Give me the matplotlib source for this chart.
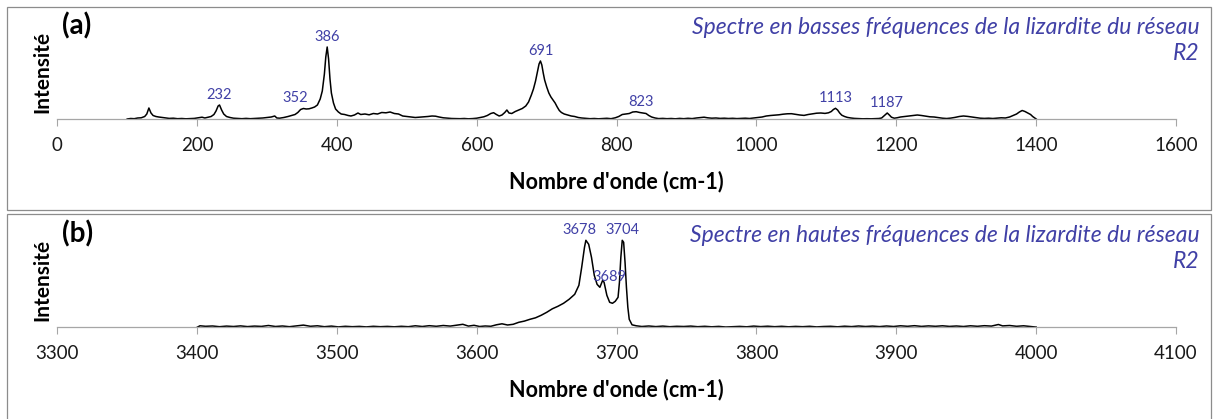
import matplotlib
matplotlib.use("Agg")
import matplotlib.pyplot as plt
from matplotlib.patches import Rectangle

plt.rcParams['font.family'] = ['Lato', 'DejaVu Sans']

# spectre basses frequences (intensite en unites arbitraires)
low_wn = [100, 105, 110, 115, 120, 125, 128, 131, 134, 137, 141, 145, 150, 155, 160, 166, 172, 178, 184, 190,
          196, 202, 207, 211, 216, 220, 224, 227, 230, 232, 235, 238, 242, 247, 252, 258, 264, 270, 276, 282,
          288, 294, 300, 306, 311, 314, 318, 324, 330, 335, 340, 344, 348, 352, 356, 360, 364, 368, 372, 376,
          379, 382, 384, 386, 388, 390, 392, 395, 398, 402, 406, 411, 416, 420, 425, 430, 434, 440, 446, 452,
          458, 464, 470, 476, 482, 488, 494, 500, 506, 512, 518, 524, 530, 536, 541, 546, 552, 558, 564, 570,
          576, 582, 588, 594, 600, 605, 610, 615, 620, 624, 628, 632, 636, 640, 643, 646, 650, 655, 660, 665,
          670, 674, 678, 681, 684, 687, 689, 691, 693, 695, 697, 700, 703, 706, 709, 712, 715, 718, 721, 725,
          730, 735, 740, 745, 750, 756, 762, 768, 774, 780, 786, 792, 798, 803, 808, 813, 818, 823, 828, 833,
          838, 842, 846, 850, 855, 860, 866, 872, 878, 884, 890, 896, 902, 908, 914, 920, 925, 930, 936, 942,
          948, 954, 960, 966, 972, 978, 984, 990, 996, 1002, 1008, 1014, 1020, 1026, 1032, 1038, 1044, 1050, 1056, 1062,
          1068, 1074, 1080, 1086, 1092, 1098, 1103, 1107, 1110, 1113, 1116, 1119, 1122, 1126, 1130, 1135, 1140, 1146, 1152, 1158,
          1164, 1170, 1175, 1179, 1183, 1187, 1190, 1193, 1197, 1201, 1206, 1212, 1218, 1224, 1230, 1236, 1242, 1248, 1254, 1260,
          1266, 1272, 1278, 1284, 1290, 1296, 1302, 1308, 1314, 1320, 1326, 1332, 1338, 1344, 1350, 1356, 1362, 1367, 1372, 1376,
          1380, 1384, 1388, 1392, 1395, 1398, 1400]
low_int = [0, 0.5, 0.3, 1.0, 1.2, 2.5, 5, 11, 6, 3.5, 2.5, 2.0, 1.5, 1.0, 0.6, 0.8, 0.3, 0.5, 0.2, 0.4,
           0.6, 1.2, 1.8, 1.0, 1.8, 2.5, 4.5, 8, 13, 14, 9, 5, 2.5, 1.5, 0.8, 0.5, 0.3, 0.6, 0.3, 0.5,
           0.8, 1.0, 1.5, 2.0, 3.0, 1.0, 0.8, 1.5, 2.5, 3.5, 4.5, 6.5, 9.5, 10.5, 10, 10.2, 11, 12, 14, 20,
           28, 45, 62, 72, 60, 40, 26, 16, 10, 7, 5, 4.5, 3.5, 3.0, 4.0, 6.0, 4.5, 5.0, 4.2, 5.5,
           5.0, 6.5, 6.2, 7.0, 5.5, 5.0, 3.0, 2.5, 2.0, 1.5, 1.8, 2.2, 2.5, 3.0, 2.8, 2.0, 1.2, 0.8, 0.5, 0.4,
           0.3, 0.5, 0.2, 0.4, 0.8, 1.5, 2.2, 3.5, 5.5, 6.3, 4.5, 3.0, 4.0, 6.5, 9, 6, 5.5, 7.5, 9, 10.5,
           13, 17, 24, 30, 38, 48, 55, 58, 54, 46, 39, 32, 26, 22, 19, 16, 12, 8.5, 6.5, 5,
           4, 3, 2.5, 1.5, 1.0, 0.6, 0.3, 0.5, 0.2, 0.4, 0.7, 0.3, 1.2, 2.5, 4.5, 5.0, 5.5, 7.0, 7.3, 6.5,
           6.0, 5.5, 3.5, 2.0, 1.0, 0.4, 0.6, 0.3, 0.5, 0.2, 0.6, 0.3, 0.7, 0.4, 1.0, 1.4, 1.8, 1.2, 0.8, 1.0,
           0.6, 0.8, 0.5, 0.7, 0.4, 0.6, 0.8, 0.5, 1.0, 1.5, 2.0, 3.0, 3.5, 3.8, 4.2, 4.8, 5.2, 5.3, 4.6, 4.0,
           3.6, 4.5, 5.2, 5.8, 6.0, 5.6, 6.2, 7.5, 9.5, 10.7, 9.0, 6.0, 3.8, 2.5, 1.6, 1.0, 0.6, 0.4, 0.2, 0.3,
           0.2, 0.4, 0.5, 1.0, 3.5, 6.0, 4.0, 1.8, 0.8, 1.2, 2.0, 2.5, 3.0, 3.6, 4.0, 3.5, 2.8, 2.2, 2.0, 1.4,
           0.8, 0.5, 0.9, 1.6, 2.5, 3.0, 2.6, 2.0, 1.5, 0.8, 0.6, 0.8, 0.5, 0.8, 1.2, 1.0, 2.0, 3.5, 5.0, 7.0,
           8.5, 7.5, 6.0, 4.5, 2.5, 1.0, 0.0]

# spectre hautes frequences
high_wn = [3400, 3402, 3406, 3411, 3416, 3421, 3426, 3431, 3436, 3441, 3446, 3451, 3456, 3461, 3466, 3471, 3476, 3481, 3486, 3491,
           3496, 3501, 3506, 3511, 3516, 3521, 3526, 3531, 3536, 3541, 3546, 3551, 3556, 3561, 3566, 3571, 3576, 3581, 3586, 3590,
           3594, 3598, 3602, 3606, 3610, 3614, 3618, 3622, 3626, 3630, 3634, 3638, 3642, 3646, 3650, 3654, 3658, 3662, 3666, 3670,
           3673, 3675, 3677, 3678, 3680, 3682, 3684, 3686, 3688, 3690, 3691, 3693, 3695, 3697, 3699, 3701, 3702, 3703, 3704, 3705,
           3706, 3707, 3708, 3709, 3711, 3714, 3718, 3723, 3728, 3733, 3738, 3743, 3748, 3753, 3758, 3763, 3768, 3773, 3778, 3783,
           3788, 3793, 3798, 3803, 3808, 3813, 3818, 3823, 3828, 3833, 3838, 3843, 3848, 3853, 3858, 3863, 3868, 3873, 3878, 3883,
           3888, 3893, 3898, 3903, 3908, 3913, 3918, 3923, 3928, 3933, 3938, 3943, 3948, 3953, 3958, 3963, 3968, 3973, 3976, 3981,
           3986, 3991, 3996, 4000]
high_int = [0, 1.5, 1.0, 1.3, 0.6, 1.2, 0.8, 1.4, 0.7, 1.2, 0.9, 1.8, 0.8, 1.3, 0.6, 1.4, 2.2, 1.0, 1.5, 0.6,
            1.2, 0.4, 1.0, 0.6, 0.9, 0.4, 1.0, 0.6, 0.9, 0.5, 1.0, 0.6, 1.5, 0.8, 1.6, 1.0, 1.8, 1.2, 2.2, 3.0,
            1.2, 2.0, 0.8, 1.3, 1.0, 2.5, 3.5, 2.3, 3.0, 5.0, 6.2, 8.0, 9.5, 12, 15, 18.5, 21, 24, 28, 33,
            42, 60, 80, 87, 83, 70, 52, 43, 40, 47, 45, 32, 25, 24, 26, 30, 45, 70, 87, 85,
            65, 40, 20, 8, 2.5, 1.5, 0.8, 1.3, 0.7, 1.2, 0.6, 1.0, 0.8, 1.2, 0.6, 1.0, 0.5, 0.9, 0.3, 0.6,
            0.9, 0.5, 1.2, 0.7, 1.1, 0.6, 1.0, 0.5, 0.9, 0.6, 1.0, 0.4, 0.8, 1.0, 0.5, 1.1, 0.7, 1.3, 0.8, 1.2,
            0.7, 1.3, 0.8, 1.5, 1.0, 1.6, 0.9, 1.4, 1.0, 1.5, 0.9, 1.3, 0.8, 1.5, 1.0, 1.6, 1.2, 2.8, 1.4, 1.8,
            1.0, 1.5, 0.8, 0.2]

low_peaks = [232, 352, 386, 691, 823, 1113, 1187]
high_peaks = [3678, 3689, 3704]

low_ticks = [0, 200, 400, 600, 800, 1000, 1200, 1400, 1600]
high_ticks = [3300, 3400, 3500, 3600, 3700, 3800, 3900, 4000, 4100]

W, H = 1214, 419
blue = '#4040A6'
grey = '#A6A6A6'

fig = plt.figure(figsize=(W / 100, H / 100), dpi=100)

# cadres des deux graphes
fig.patches.append(Rectangle((7 / W, 1 - 210 / H), 1204 / W, 203 / H, transform=fig.transFigure,
                             fill=False, edgecolor='#8C8C8C', lw=0.9))
fig.patches.append(Rectangle((7 / W, -0.01), 1204 / W, (419 - 214) / H + 0.01, transform=fig.transFigure,
                             fill=False, edgecolor='#8C8C8C', lw=0.9))


def panel(base_y, wn, inten, peaks, ticks, tag, title, label_dx):
    ax = fig.add_axes([57.3 / W, 1 - base_y / H, (1176 - 57.3) / W, 107 / H])
    ax.plot(wn, inten, color='black', lw=1.1)
    ax.set_xlim(ticks[0], ticks[-1])
    ax.set_ylim(0, 107)
    ax.set_xticks(ticks)
    ax.set_xticklabels([str(t) for t in ticks], fontsize=13.5, color='#1a1a1a')
    ax.tick_params(axis='x', direction='out', length=5, width=0.8, color=grey, pad=8)
    ax.set_yticks([])
    for s in ['left', 'right', 'top']:
        ax.spines[s].set_visible(False)
    ax.spines['bottom'].set_color(grey)
    ax.spines['bottom'].set_linewidth(0.9)
    ax.patch.set_alpha(0)
    for p in peaks:
        # hauteur du point le plus proche du pic
        i = min(range(len(wn)), key=lambda k: abs(wn[k] - p))
        ax.annotate(str(p), (p, inten[i]), xytext=(label_dx.get(p, 0), 3), textcoords='offset pixels',
                    ha='center', va='bottom', fontsize=10.5, color=blue)
    ax.set_xlabel("Nombre d'onde (cm-1)", fontsize=15.5, fontweight='bold', labelpad=12)
    fig.text(42 / W, 1 - (base_y - 47) / H, 'Intensité', rotation=90, ha='center', va='center',
             fontsize=15, fontweight='bold')
    fig.text(62 / W, 1 - (base_y - 93) / H, tag, ha='left', va='center', fontsize=20, fontweight='bold')
    fig.text(1200 / W, 1 - (base_y - 92) / H, title, ha='right', va='center', fontsize=16.5,
             style='italic', color=blue)
    fig.text(1200 / W, 1 - (base_y - 66) / H, 'R2', ha='right', va='center', fontsize=16.5,
             style='italic', color=blue)
    return ax


panel(119, low_wn, low_int, low_peaks, low_ticks, '(a)',
      'Spectre en basses fréquences de la lizardite du réseau', {352: -8, 823: 8})
panel(327.3, high_wn, high_int, high_peaks, high_ticks, '(b)',
      'Spectre en hautes fréquences de la lizardite du réseau', {3678: -6, 3689: 8})

fig.savefig('out.png', dpi=100)
